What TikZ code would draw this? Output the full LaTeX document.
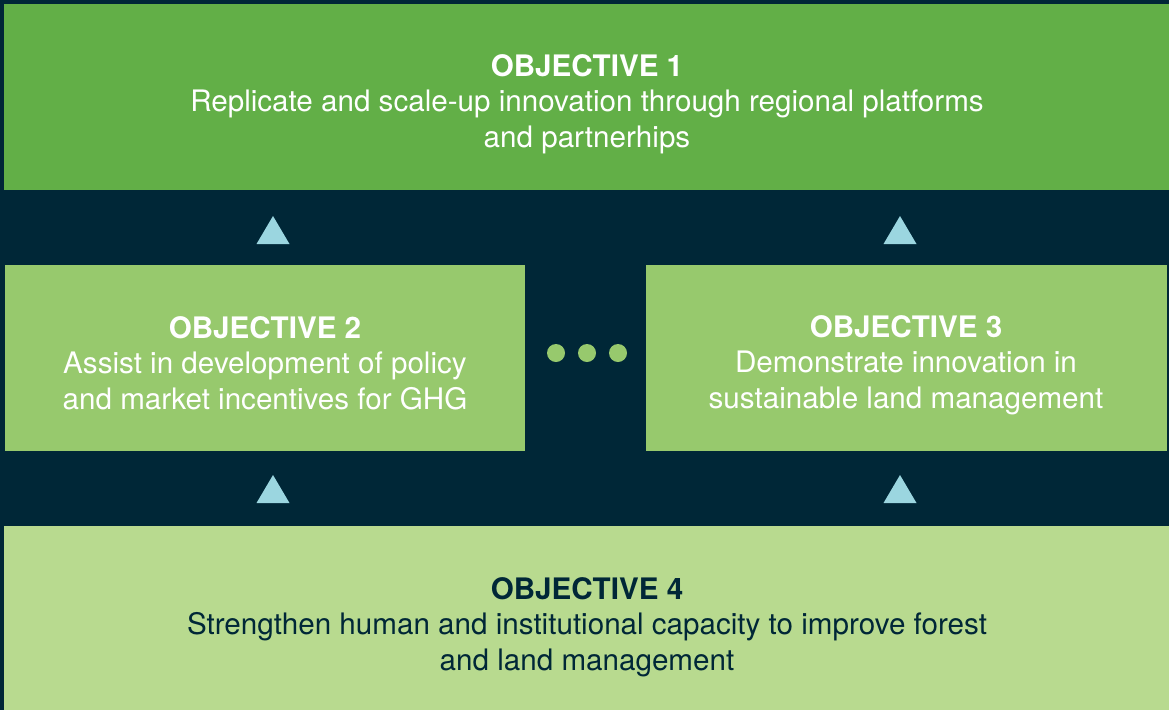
\documentclass[tikz,border=0pt]{standalone}
\usepackage{fontspec}
\setmainfont{TeX Gyre Heros}
\usepackage{xcolor}
\usepackage{tikz}

\definecolor{navy}{HTML}{002737}
\definecolor{darkgreen}{HTML}{62AF47}
\definecolor{midgreen}{HTML}{97C96D}
\definecolor{palegreen}{HTML}{B8DA8F}
\definecolor{skyblue}{HTML}{9BD6E0}

\tikzset{
    objbox/.style={inner sep=0pt, align=center,
                   font=\fontsize{29.6}{35.5}\selectfont},
    uptri/.style={fill=skyblue},
    dot/.style={circle, fill=midgreen, inner sep=0pt, minimum size=18pt}
}

\begin{document}
\begin{tikzpicture}[x=1pt, y=-1pt]
    \fill[navy] (0,0) rectangle (1169,710);
    \useasboundingbox (0,0) rectangle (1169,710);

    \fill[darkgreen] (4,4) rectangle (1169,190);
    \fill[midgreen] (5,265) rectangle (525,451);
    \fill[midgreen] (646,265) rectangle (1167,451);
    \fill[palegreen] (4,526) rectangle (1169,710);

    \node[objbox, text=white] (obj1) at (587,104)
        {\textbf{OBJECTIVE 1}\\ Replicate and scale-up innovation through regional platforms\\ and partnerhips};
    \node[objbox, text=white] (obj2) at (265,363)
        {\textbf{OBJECTIVE 2}\\ Assist in development of policy\\ and market incentives for GHG};
    \node[objbox, text=white] (obj3) at (906,365)
        {\textbf{OBJECTIVE 3}\\ Demonstrate innovation in\\ sustainable land management};
    \node[objbox, text=navy] (obj4) at (587,627)
        {\textbf{OBJECTIVE 4}\\ Strengthen human and institutional capacity to improve forest\\ and land management};

    % arrows upward
    \foreach \x in {273,900} {
        \fill[uptri] (\x,216) -- (\x+16.5,244) -- (\x-16.5,244) -- cycle;
        \fill[uptri] (\x,475) -- (\x+16.5,503) -- (\x-16.5,503) -- cycle;
    }

    \foreach \x/\n in {556/a,587/b,618/c}
        \node[dot] (dot-\n) at (\x,353) {};
\end{tikzpicture}
\end{document}
